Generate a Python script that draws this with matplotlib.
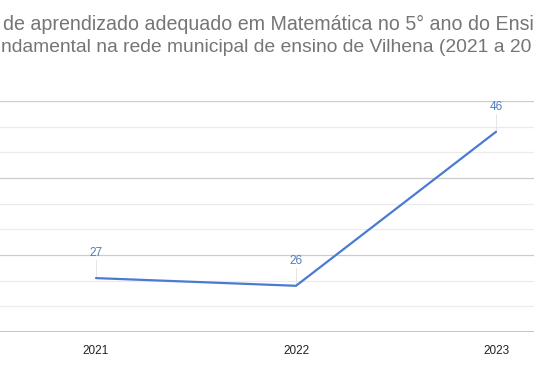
import matplotlib.pyplot as plt
from matplotlib.ticker import MultipleLocator

anos = ['2021', '2022', '2023']
valores = [27, 26, 46]
# title as visible in the (cropped) reference
titulo_1 = 'de aprendizado adequado em Matemática no 5° ano do Ensi'
titulo_2 = 'ndamental na rede municipal de ensino de Vilhena (2021 a 20'

plt.rcParams['font.family'] = ['Liberation Sans', 'DejaVu Sans']

W, H = 534, 371
fig = plt.figure(figsize=(W / 100, H / 100), dpi=100)

# plot area: value 50 at y=101px, value 20 at y=332px
ax = fig.add_axes([0, (H - 332) / H, 1, (332 - 101) / H])
x = list(range(len(anos)))
ax.plot(x, valores, color='#4a7bd0', lw=1.6, solid_capstyle='round', zorder=3)

for xi, v in zip(x, valores):
    ax.plot([xi, xi], [v, v + 2.3], color='#e0e0e0', lw=0.6, zorder=2)
    ax.text(xi, v + 2.5, str(v), ha='center', va='bottom', fontsize=8.5,
            color='#4a7ebb', zorder=4)

ax.set_xlim(-96 / 200, (W - 96) / 200)
ax.set_ylim(20, 50)
ax.yaxis.set_major_locator(MultipleLocator(10))
ax.yaxis.set_minor_locator(MultipleLocator(10 / 3))
ax.grid(axis='y', which='major', color='#cccccc', lw=0.9)
ax.grid(axis='y', which='minor', color='#ebebeb', lw=0.9)
ax.set_axisbelow(True)
ax.set_xticks(x)
ax.set_xticklabels(anos, fontsize=8.5, color='#222222')
ax.tick_params(axis='x', length=0, pad=9)
ax.tick_params(axis='y', which='both', length=0, labelleft=False)
for s in ax.spines.values():
    s.set_visible(False)
ax.axhline(20, color='#bdbdbd', lw=1.2, zorder=1)

fig.text(3 / W, 1 - 30 / H, titulo_1, ha='left', va='baseline', fontsize=14.1, color='#757575')
fig.text(1 / W, 1 - 52 / H, titulo_2, ha='left', va='baseline', fontsize=13.9, color='#757575')

fig.savefig('out.png', dpi=100)
